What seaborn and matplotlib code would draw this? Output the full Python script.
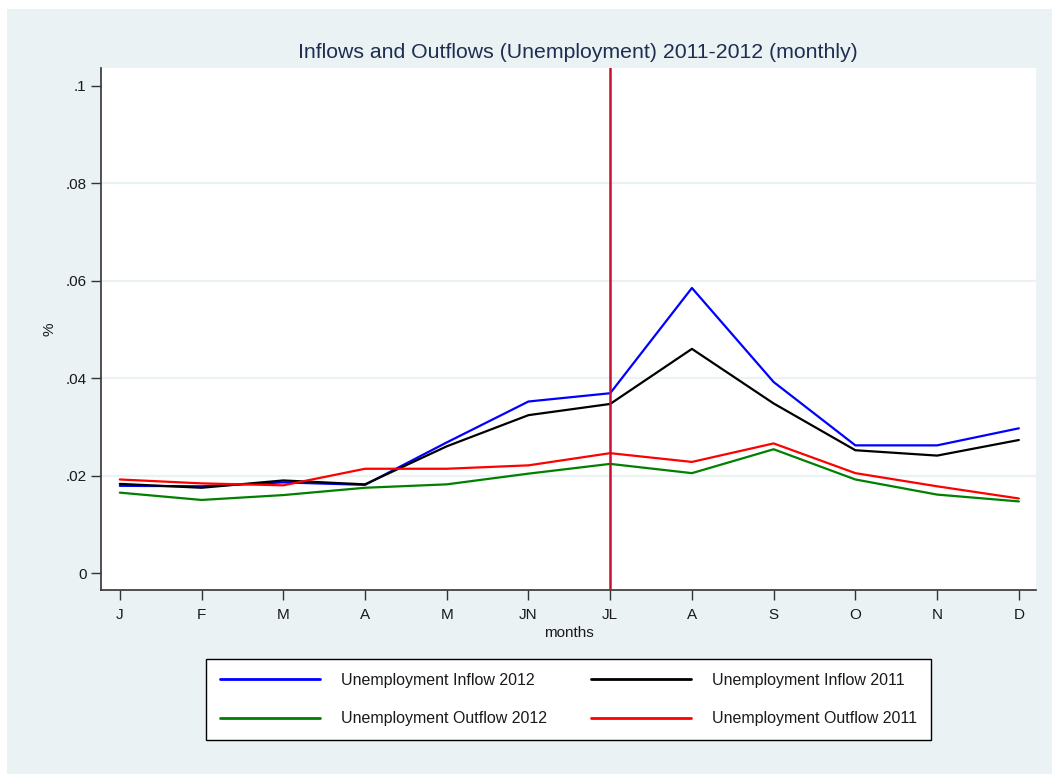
import matplotlib
matplotlib.use("Agg")
import matplotlib.pyplot as plt
import seaborn as sns
import pandas as pd
import numpy as np

# Monthly labels
months = ["J", "F", "M", "A", "M", "JN", "JL", "A", "S", "O", "N", "D"]

# Flow rates by month
inflow_2012 = [0.0179, 0.0178, 0.0186, 0.0181, 0.0268, 0.0352, 0.0369, 0.0585, 0.0392, 0.0262, 0.0262, 0.0297]
inflow_2011 = [0.0183, 0.0175, 0.0190, 0.0182, 0.0260, 0.0324, 0.0347, 0.0460, 0.0348, 0.0252, 0.0241, 0.0273]
outflow_2012 = [0.0165, 0.0150, 0.0160, 0.0175, 0.0182, 0.0204, 0.0224, 0.0205, 0.0254, 0.0192, 0.0161, 0.0147]
outflow_2011 = [0.0192, 0.0184, 0.0180, 0.0214, 0.0214, 0.0221, 0.0246, 0.0228, 0.0266, 0.0205, 0.0178, 0.0153]

series_names = ["Unemployment Inflow 2012", "Unemployment Outflow 2012",
                "Unemployment Inflow 2011", "Unemployment Outflow 2011"]
series_values = [inflow_2012, outflow_2012, inflow_2011, outflow_2011]
series_colors = ["#0000FF", "#008000", "#000000", "#FF0000"]

y_ticks = [0, 0.02, 0.04, 0.06, 0.08, 0.1]
y_tick_labels = ["0", ".02", ".04", ".06", ".08", ".1"]
break_month = 6  # July marker

rows = []
for name, vals in zip(series_names, series_values):
    for i, v in enumerate(vals):
        rows.append({"month": i, "rate": v, "series": name})
df = pd.DataFrame(rows)

sns.set_theme(style="white")
plt.rcParams["font.family"] = ["Liberation Sans", "DejaVu Sans"]

bg = "#EAF2F3"
text_color = "#1a1a1a"

fig = plt.figure(figsize=(10.52, 7.74), dpi=100, facecolor="white")
# shaded graph region behind everything
fig.patches.append(plt.Rectangle((7 / 1052, 0), 1 - 7 / 1052, 1 - 9 / 774,
                                 transform=fig.transFigure, facecolor=bg,
                                 edgecolor="none", zorder=-10))

ax = fig.add_axes([101 / 1052, 1 - 590 / 774, (1036 - 101) / 1052, (590 - 67.7) / 774])
ax.set_facecolor("white")

palette = dict(zip(series_names, series_colors))
sns.lineplot(data=df, x="month", y="rate", hue="series", hue_order=series_names,
             palette=palette, linewidth=1.6, ax=ax, legend=True, zorder=3)

ax.axvline(break_month, color="#C8102E", linewidth=1.8, zorder=4)

ax.set_xlim(-0.23, 11.21)
ax.set_ylim(-0.00348, 0.1037)

for yv in [0.02, 0.04, 0.06, 0.08]:
    ax.axhline(yv, color=bg, linewidth=1.6, zorder=1)

ax.set_xticks(range(len(months)))
ax.set_xticklabels(months)
ax.set_yticks(y_ticks)
ax.set_yticklabels(y_tick_labels)
ax.tick_params(axis="both", which="major", direction="out", length=7, width=1,
               color="#333333", labelsize=11, labelcolor=text_color,
               left=True, bottom=True)
ax.tick_params(axis="x", pad=6)
ax.tick_params(axis="y", pad=3.5)

for side in ["top", "right"]:
    ax.spines[side].set_visible(False)
for side in ["left", "bottom"]:
    ax.spines[side].set_color("#333333")
    ax.spines[side].set_linewidth(1.2)

ax.set_xlabel("months", fontsize=11, color=text_color, labelpad=3)
ax.set_ylabel("%", fontsize=11, color=text_color, labelpad=6)
ax.set_title("Inflows and Outflows (Unemployment) 2011-2012 (monthly)",
             fontsize=15.3, color="#1E2D50", pad=7, x=0.5096)

handles, labels = ax.get_legend_handles_labels()
ax.legend_.remove()
leg = fig.legend(handles, labels, ncol=2, loc="center",
                 bbox_to_anchor=(568.5 / 1052, 1 - 699.5 / 774),
                 frameon=True, fancybox=False, edgecolor="#000000",
                 facecolor="white", framealpha=1.0,
                 fontsize=11.5, handlelength=6.25, handletextpad=1.3,
                 columnspacing=2.8, labelspacing=1.5, borderpad=0.85)
leg.get_frame().set_linewidth(1.0)
for t in leg.get_texts():
    t.set_color(text_color)
for line in leg.get_lines():
    line.set_linewidth(2.0)

fig.savefig("out.png", dpi=100, facecolor=fig.get_facecolor())
